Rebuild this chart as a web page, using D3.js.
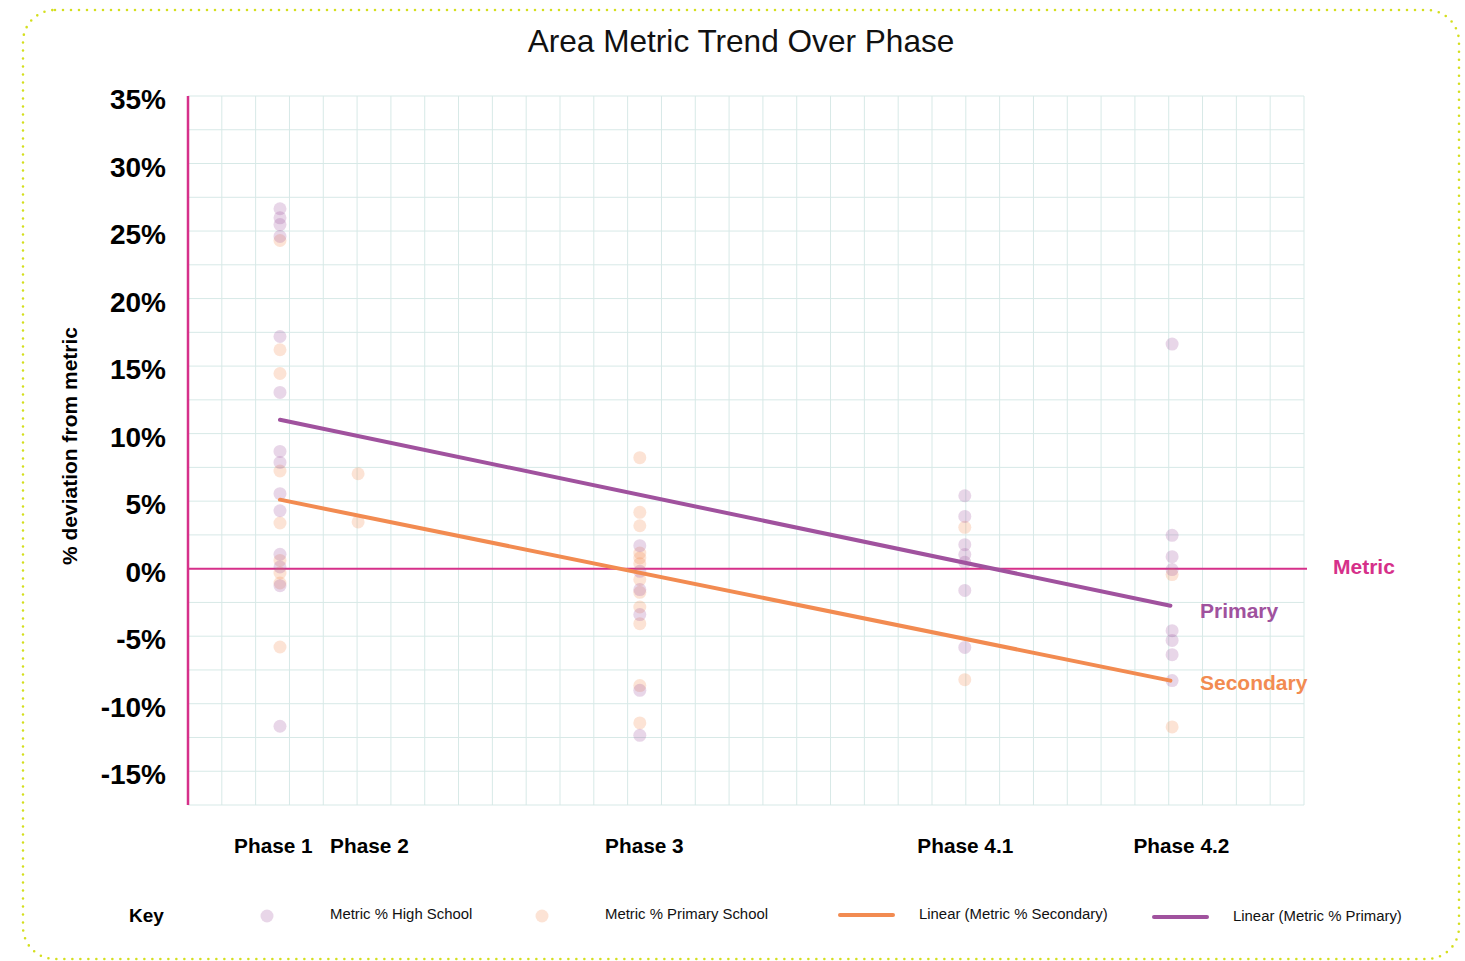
<!DOCTYPE html>
<html><head><meta charset="utf-8">
<script src="https://cdn.jsdelivr.net/npm/d3@7"></script>
<style>html,body{margin:0;padding:0;background:#fff;}svg{display:block;font-family:"Liberation Sans",Arial,sans-serif;}</style>
</head><body>
<svg id="c" width="1465" height="961"></svg>
<script>
// ---- data ----
const phases = ["Phase 1","Phase 2","Phase 3","Phase 4.1","Phase 4.2"];
const phaseX = [2.72, 5.03, 13.36, 22.97, 29.1];        // numeric position of each phase on x axis
const phaseLabelX = [2.51, 5.35, 13.48, 22.97, 29.36];  // tick label positions
const yTicks = [35,30,25,20,15,10,5,0,-5,-10,-15];
const highSchool = [
  [26.65,25.98,25.48,24.60,17.19,13.05,8.68,7.87,5.55,4.29,1.06,0.13,-1.26,-11.67],
  [],
  [1.70,-0.20,-1.55,-3.40,-9.01,-12.34],
  [5.40,3.87,1.78,1.04,0.47,-1.61,-5.83],
  [16.63,2.47,0.89,-0.07,-4.59,-5.31,-6.37,-8.29]
];
const primarySchool = [
  [24.30,16.21,14.45,7.23,3.38,0.61,-0.32,-1.06,-5.80],
  [7.03,3.46],
  [8.22,4.17,3.18,1.16,0.79,0.37,-0.81,-1.75,-2.84,-4.07,-8.66,-11.42],
  [3.06,-8.22],
  [-0.44,-11.72]
];
const primaryTrend = [11.03, -2.74];   // at Phase 1 and Phase 4.2
const secondaryTrend = [5.11, -8.29];

// ---- styles ----
const C = {purple:"#a0529e", orange:"#f28b51", magenta:"#d6308a", grid:"#d7e9e7", border:"#d4df1e"};

const svg = d3.select("#c");
const x = d3.scaleLinear().domain([0,33]).range([188,1304]);
const y = d3.scaleLinear().domain([-17.5,35]).range([805,96]);

// border
svg.append("rect").attr("x",23).attr("y",10).attr("width",1436).attr("height",949)
  .attr("rx",32).attr("fill","none").attr("stroke",C.border).attr("stroke-width",2.6)
  .attr("stroke-dasharray","0 8").attr("stroke-linecap","round");

// title
svg.append("text").attr("x",741).attr("y",52).attr("text-anchor","middle")
  .attr("font-size",31.6).attr("fill","#111").text("Area Metric Trend Over Phase");

// grid
const g = svg.append("g");
g.selectAll("line.v").data(d3.range(1,34)).enter().append("line")
  .attr("x1",d=>x(d)).attr("x2",d=>x(d)).attr("y1",y(35)).attr("y2",y(-17.5))
  .attr("stroke",C.grid).attr("stroke-width",1);
g.selectAll("line.h").data(d3.range(-17.5,35.01,2.5)).enter().append("line")
  .attr("x1",x(0)).attr("x2",x(33)).attr("y1",d=>y(d)).attr("y2",d=>y(d))
  .attr("stroke",C.grid).attr("stroke-width",1);

// y axis
const yAxis = d3.axisLeft(y).tickValues(yTicks).tickFormat(d=>d+"%").tickSize(0).tickPadding(22);
const ya = svg.append("g").attr("transform",`translate(${x(0)},0)`).call(yAxis);
ya.select(".domain").remove();
ya.selectAll("text").attr("font-size",28).attr("font-weight","bold").attr("fill","#000")
  .attr("font-family","'Liberation Sans',Arial,sans-serif").attr("dy","0.45em");
svg.append("line").attr("x1",x(0)).attr("x2",x(0)).attr("y1",y(35)).attr("y2",y(-17.5))
  .attr("stroke",C.magenta).attr("stroke-width",2.5);

// y title
svg.append("text").attr("transform",`translate(77,${446}) rotate(-90)`).attr("text-anchor","middle")
  .attr("font-size",21).attr("font-weight","bold").attr("fill","#000").text("% deviation from metric");

// x labels
const xAxis = d3.axisBottom(x).tickValues(phaseLabelX).tickFormat((d,i)=>phases[i]).tickSize(0).tickPadding(0);
const xa = svg.append("g").attr("transform","translate(0,838)").call(xAxis);
xa.select(".domain").remove();
xa.selectAll("text").attr("font-size",20.8).attr("font-weight","bold").attr("fill","#000")
  .attr("font-family","'Liberation Sans',Arial,sans-serif").attr("dy","0.71em");

// metric line
svg.append("line").attr("x1",x(0)).attr("x2",x(33)+3).attr("y1",y(0)).attr("y2",y(0))
  .attr("stroke",C.magenta).attr("stroke-width",2);

// points
function pts(arr,color){
  const flat=[]; arr.forEach((vals,i)=>vals.forEach(v=>flat.push([phaseX[i],v])));
  svg.append("g").selectAll("circle").data(flat).enter().append("circle")
    .attr("cx",d=>x(d[0])).attr("cy",d=>y(d[1])).attr("r",6.5)
    .attr("fill",color).attr("fill-opacity",0.24);
}
pts(primarySchool,C.orange);
pts(highSchool,C.purple);

// trend lines
const line = d3.line().x(d=>x(d[0])).y(d=>y(d[1]));
const ends=[phaseX[0], phaseX[4]-0.05];
svg.append("path").attr("d",line(ends.map((e,i)=>[e,secondaryTrend[i]]))).attr("fill","none")
  .attr("stroke",C.orange).attr("stroke-width",4).attr("stroke-linecap","round");
svg.append("path").attr("d",line(ends.map((e,i)=>[e,primaryTrend[i]]))).attr("fill","none")
  .attr("stroke",C.purple).attr("stroke-width",4).attr("stroke-linecap","round");

// line labels
svg.append("text").attr("x",1333).attr("y",y(0)+5).attr("font-size",21).attr("font-weight","bold")
  .attr("fill",C.magenta).text("Metric");
svg.append("text").attr("x",1200).attr("y",618).attr("font-size",21).attr("font-weight","bold")
  .attr("fill",C.purple).text("Primary");
svg.append("text").attr("x",1200).attr("y",690).attr("font-size",21).attr("font-weight","bold")
  .attr("fill",C.orange).text("Secondary");

// legend
const ly=915;
svg.append("text").attr("x",129).attr("y",ly+7).attr("font-size",19).attr("font-weight","bold").attr("fill","#000").text("Key");
svg.append("circle").attr("cx",267).attr("cy",ly+1).attr("r",6.5).attr("fill",C.purple).attr("fill-opacity",0.24);
svg.append("text").attr("x",330).attr("y",ly+4).attr("font-size",14.9).attr("fill","#111").text("Metric % High School");
svg.append("circle").attr("cx",542).attr("cy",ly+1).attr("r",6.5).attr("fill",C.orange).attr("fill-opacity",0.24);
svg.append("text").attr("x",605).attr("y",ly+4).attr("font-size",14.9).attr("fill","#111").text("Metric % Primary School");
svg.append("line").attr("x1",840).attr("x2",893).attr("y1",ly).attr("y2",ly).attr("stroke",C.orange).attr("stroke-width",4).attr("stroke-linecap","round");
svg.append("text").attr("x",919).attr("y",ly+4).attr("font-size",14.9).attr("fill","#111").text("Linear (Metric % Secondary)");
svg.append("line").attr("x1",1154).attr("x2",1207).attr("y1",ly+2).attr("y2",ly+2).attr("stroke",C.purple).attr("stroke-width",4).attr("stroke-linecap","round");
svg.append("text").attr("x",1233).attr("y",ly+6).attr("font-size",14.9).attr("fill","#111").text("Linear (Metric % Primary)");
</script>
</body></html>
